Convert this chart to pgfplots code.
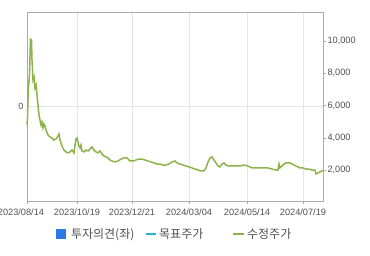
\documentclass[border=0pt]{standalone}
\usepackage{pgfplots}
\pgfplotsset{compat=1.18}
\usepackage{fontspec}
\setmainfont{Liberation Sans}
\newfontfamily\kr{Noto Sans CJK KR}
\definecolor{gline}{RGB}{141,180,74}
\definecolor{bsq}{RGB}{42,122,226}
\definecolor{cline}{RGB}{38,181,200}
\definecolor{axgray}{RGB}{170,170,170}
\definecolor{grd}{RGB}{229,229,229}
\definecolor{txt}{RGB}{80,80,80}
\begin{document}
\begin{tikzpicture}[x=1pt,y=1pt]
% left dummy axis with 0 label and horizontal grid
\begin{axis}[at={(27pt,54pt)}, anchor=south west, scale only axis,
  width=296pt, height=189pt,
  xmin=0, xmax=296, ymin=-1, ymax=1,
  axis line style={draw=none},
  xtick=\empty, ytick={0}, yticklabels={0},
  ymajorgrids, grid style={grd, line width=0.6pt},
  major tick length=0pt,
  tick label style={font=\fontsize{9}{10}\selectfont, text=txt},
]
\end{axis}
\begin{axis}[at={(27pt,54pt)}, anchor=south west, scale only axis,
  width=296pt, height=189pt,
  xmin=0, xmax=296, ymin=90, ymax=11800,
  axis line style={axgray, line width=0.7pt},
  ytick pos=right, yticklabel pos=right,
  xtick pos=bottom,
  ytick={2000,4000,6000,8000,10000},
  scaled y ticks=false,
  xtick={0,50,105,162,220,276},
  xticklabels={\hspace*{-12pt}2023/08/14,2023/10/19,2023/12/21,2024/03/04,2024/05/14,2024/07/19},
  xmajorgrids, grid style={grd, line width=0.6pt},
  major tick length=3pt,
  tick style={axgray, line width=0.6pt},
  tick align=outside,
  /pgf/number format/.cd, 1000 sep={,}, assume math mode=true,
  /pgfplots/.cd,
  tick label style={font=\fontsize{9.2}{10}\selectfont, text=txt},
  xticklabel style={yshift=-1pt},
  yticklabel style={xshift=-2pt},
  clip=false,
  legend style={at={(0.5,-0.175)}, anchor=center, draw=none, fill=none,
    legend columns=3, font=\kr\fontsize{12}{13}\selectfont, text=txt,
    nodes={inner xsep=2.5pt, inner ysep=1pt},
    /tikz/column 2/.style={column sep=8pt},
    /tikz/column 4/.style={column sep=26pt}},
  legend cell align=left,
]
\addlegendimage{legend image code/.code={\fill[bsq] (0pt,-4.5pt) rectangle (9pt,4.5pt);}}
\addlegendentry{\hspace*{3pt}투자의견(좌)}
\addlegendimage{legend image code/.code={\draw[cline, line width=1.8pt] (0pt,0pt) -- (10pt,0pt);}}
\addlegendentry{목표주가}
\addplot[gline, line width=1.5pt, legend image code/.code={\draw[gline, line width=1.8pt] (0pt,0pt) -- (11pt,0pt);}] coordinates {
(0,4800)(0.5,5230)(1,6350)(1.5,7150)(2.5,7900)(3,9130)(3.5,10120)(4.5,10060)
(5,8820)(5.5,8200)(6,7590)(7,7770)(8,7090)(9,7280)(10,6660)(11,6040)(12,5420)
(13,5110)(14,4800)(15,4980)(16,4610)(17,4860)(18,4740)(19,4490)(21,4180)
(23,4060)(25,3990)(27,3870)(29,3930)(31,4120)(32,4240)(33,3870)(35,3500)
(37,3250)(39,3130)(41,3070)(43,3130)(45,3250)(47,3070)(48,3560)(49,3930)
(50,3990)(51,3750)(52,3500)(53,3380)(54,3560)(55,3190)(57,3130)(59,3250)
(61,3190)(63,3310)(65,3440)(67,3250)(69,3130)(71,3070)(73,3190)(75,3000)
(77,2880)(79,2820)(81,2760)(83,2630)(85,2570)(88,2510)(91,2570)(94,2690)
(97,2760)(100,2760)(103,2570)(106,2570)(109,2630)(112,2690)(115,2690)
(118,2630)(121,2570)(124,2510)(127,2450)(130,2380)(133,2380)(136,2320)
(139,2320)(142,2380)(145,2510)(148,2570)(150,2450)(153,2380)(156,2320)
(159,2260)(162,2200)(165,2140)(168,2070)(171,2010)(174,1950)(177,1950)
(179,2140)(181,2510)(183,2760)(185,2820)(187,2630)(189,2450)(191,2260)
(193,2200)(195,2380)(197,2450)(199,2320)(201,2260)(205,2260)(209,2260)
(213,2260)(217,2320)(221,2260)(225,2140)(229,2140)(233,2140)(237,2140)
(241,2140)(245,2070)(249,2010)(251,2010)(252,2380)(253,2140)(255,2260)
(257,2380)(259,2450)(261,2450)(263,2450)(265,2380)(267,2320)(269,2260)
(271,2200)(273,2140)(276,2140)(279,2070)(282,2070)(285,2010)(288,2010)
(289,1760)(291,1830)(293,1890)(295,1950)(296,1950)
};
\addlegendentry{수정주가}
\end{axis}
\pgfresetboundingbox
\path[use as bounding box] (0pt,0pt) rectangle (370pt,255pt);
\end{tikzpicture}
\end{document}
